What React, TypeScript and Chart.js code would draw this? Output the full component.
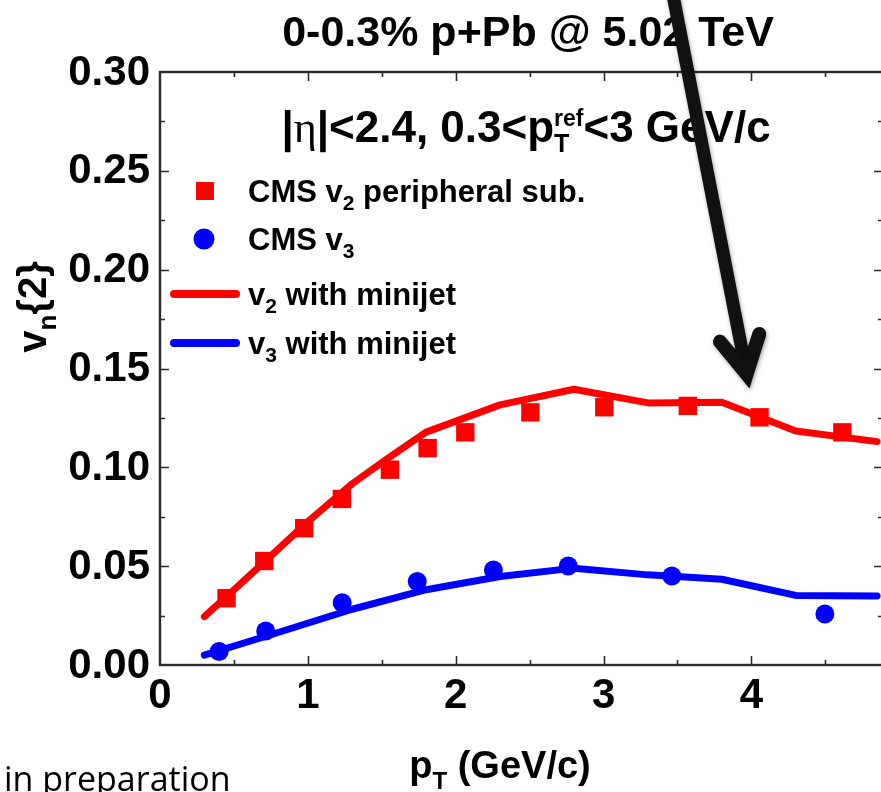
import React, { useEffect, useRef } from "react";
import { Chart, registerables } from "chart.js";

Chart.register(...registerables);

// CMS measurement, 0-0.3% p+Pb at 5.02 TeV
const cmsV2Pt = [0.45, 0.705, 0.975, 1.23, 1.555, 1.81, 2.065, 2.505, 3.005, 3.57, 4.055, 4.615];
const cmsV2 = [0.0338, 0.0526, 0.0692, 0.084, 0.0988, 0.1097, 0.1177, 0.1278, 0.1304, 0.1311, 0.1253, 0.1177];
const cmsV3Pt = [0.4, 0.715, 1.232, 1.74, 2.255, 2.761, 3.462, 4.497];
const cmsV3 = [0.0068, 0.0172, 0.0315, 0.0422, 0.0481, 0.0501, 0.045, 0.0258];

// hydro model curves with minijet contribution
const modelV2Pt = [0.3, 0.5, 0.75, 1.0, 1.3, 1.55, 1.8, 2.3, 2.8, 3.3, 3.8, 4.3, 4.85];
const modelV2 = [0.0245, 0.038, 0.0552, 0.0725, 0.0917, 0.105, 0.1178, 0.1316, 0.1395, 0.1326, 0.1329, 0.1184, 0.113];
const modelV3Pt = [0.3, 0.75, 1.3, 1.8, 2.3, 2.8, 3.3, 3.8, 4.3, 4.85];
const modelV3 = [0.005, 0.0153, 0.0282, 0.0381, 0.0448, 0.049, 0.0456, 0.0434, 0.0352, 0.0349];

// axis labels
const xTickLabels = [0, 1, 2, 3, 4];
const yTickLabels = [0.0, 0.05, 0.1, 0.15, 0.2, 0.25, 0.3];

// annotation arrow (data units), tail starts above the frame
const arrowFrom = { x: 3.45, y: 0.3465 };
const arrowTo = { x: 3.968, y: 0.1472 };

const RED = "#ff0000";
const BLUE = "#0000ff";
const INK = "#000000";
const FRAME = "#2a2a2a";
const SANS = "'Liberation Sans', Arial, Helvetica, sans-serif";
const bold = (px: number) => `bold ${px}px ${SANS}`;

type Part = { text: string; font: string; dy?: number; advance?: boolean };

function partsWidth(ctx: CanvasRenderingContext2D, parts: Part[]) {
  let w = 0;
  let pending = 0;
  for (const p of parts) {
    ctx.font = p.font;
    const pw = ctx.measureText(p.text).width;
    if (p.advance === false) {
      pending = Math.max(pending, pw);
    } else {
      w += Math.max(pending, pw);
      pending = 0;
    }
  }
  return w + pending;
}

function drawParts(ctx: CanvasRenderingContext2D, parts: Part[], x: number, y: number, align: "left" | "center") {
  ctx.textAlign = "left";
  ctx.textBaseline = "alphabetic";
  let cx = align === "center" ? x - partsWidth(ctx, parts) / 2 : x;
  let pending = 0;
  for (const p of parts) {
    ctx.font = p.font;
    const pw = ctx.measureText(p.text).width;
    ctx.fillText(p.text, cx, y + (p.dy || 0));
    if (p.advance === false) {
      pending = Math.max(pending, pw);
    } else {
      cx += Math.max(pending, pw);
      pending = 0;
    }
  }
}

const isMultiple = (v: number, step: number) => Math.abs(v / step - Math.round(v / step)) < 1e-6;

const framePlugin = {
  id: "frameAndText",
  beforeDatasetsDraw(chart: any) {
    const { ctx, chartArea: a, scales } = chart;
    const xs = scales.x;
    const ys = scales.y;
    ctx.save();
    ctx.strokeStyle = FRAME;
    ctx.lineWidth = 1.6;
    ctx.beginPath();
    for (const t of xs.ticks) {
      if (t.value <= xs.min + 1e-9 || t.value >= xs.max - 1e-9) continue;
      const px = Math.round(xs.getPixelForValue(t.value)) + 0.5;
      const len = isMultiple(t.value, 1) ? 9 : 5;
      ctx.moveTo(px, a.bottom);
      ctx.lineTo(px, a.bottom - len);
      ctx.moveTo(px, a.top);
      ctx.lineTo(px, a.top + len);
    }
    for (const t of ys.ticks) {
      if (t.value <= ys.min + 1e-9 || t.value >= ys.max - 1e-9) continue;
      const py = Math.round(ys.getPixelForValue(t.value)) + 0.5;
      const len = isMultiple(t.value, 0.05) ? 9 : 5;
      ctx.moveTo(a.left, py);
      ctx.lineTo(a.left + len, py);
      ctx.moveTo(a.right, py);
      ctx.lineTo(a.right - len, py);
    }
    ctx.stroke();
    ctx.lineWidth = 2.4;
    ctx.strokeRect(a.left, a.top, a.right - a.left, a.bottom - a.top);

    // tick labels
    ctx.fillStyle = INK;
    ctx.font = bold(42);
    ctx.textAlign = "center";
    ctx.textBaseline = "top";
    for (const v of xTickLabels) {
      ctx.fillText(String(v), xs.getPixelForValue(v), a.bottom + 10);
    }
    ctx.textAlign = "right";
    ctx.textBaseline = "middle";
    for (const v of yTickLabels) {
      ctx.fillText(v.toFixed(2), a.left - 10, ys.getPixelForValue(v) + 1);
    }
    ctx.restore();
  },
  afterDatasetsDraw(chart: any) {
    const { ctx, chartArea: a, scales } = chart;
    const xs = scales.x;
    const ys = scales.y;
    const ds = chart.data.datasets;
    ctx.save();
    ctx.fillStyle = INK;

    // title and cut line
    drawParts(ctx, [{ text: "0-0.3% p+Pb @ 5.02 TeV", font: bold(43) }], 528, 46, "center");
    drawParts(
      ctx,
      [
        { text: "|", font: bold(44) },
        { text: "\u03b7", font: `44px 'Liberation Serif', 'DejaVu Serif', serif` },
        { text: "|<2.4, 0.3<p", font: bold(44) },
        { text: "T", font: bold(25), dy: 10, advance: false },
        { text: "ref", font: bold(23), dy: -16 },
        { text: "<3 GeV/c", font: bold(44) },
      ],
      526,
      142,
      "center"
    );

    // legend
    const lx = a.left + 88;
    const rows = [191, 239, 294, 343];
    const legendFont = bold(31);
    const subFont = bold(21);
    ctx.fillStyle = ds[0].backgroundColor;
    ctx.fillRect(a.left + 36, rows[0] - 9, 18, 18);
    ctx.fillStyle = ds[1].backgroundColor;
    ctx.beginPath();
    ctx.arc(a.left + 44, rows[1], 10.5, 0, Math.PI * 2);
    ctx.fill();
    ctx.lineCap = "round";
    ctx.lineWidth = 8;
    ctx.strokeStyle = ds[2].borderColor;
    ctx.beginPath();
    ctx.moveTo(a.left + 14, rows[2]);
    ctx.lineTo(a.left + 76, rows[2]);
    ctx.stroke();
    ctx.strokeStyle = ds[3].borderColor;
    ctx.beginPath();
    ctx.moveTo(a.left + 14, rows[3]);
    ctx.lineTo(a.left + 76, rows[3]);
    ctx.stroke();
    ctx.fillStyle = INK;
    const base = 11;
    drawParts(ctx, [
      { text: "CMS v", font: legendFont },
      { text: "2", font: subFont, dy: 8 },
      { text: " peripheral sub.", font: legendFont },
    ], lx, rows[0] + base, "left");
    drawParts(ctx, [
      { text: "CMS v", font: legendFont },
      { text: "3", font: subFont, dy: 8 },
    ], lx, rows[1] + base, "left");
    drawParts(ctx, [
      { text: "v", font: legendFont },
      { text: "2", font: subFont, dy: 8 },
      { text: " with minijet", font: legendFont },
    ], lx, rows[2] + base, "left");
    drawParts(ctx, [
      { text: "v", font: legendFont },
      { text: "3", font: subFont, dy: 8 },
      { text: " with minijet", font: legendFont },
    ], lx, rows[3] + base, "left");

    // axis titles
    drawParts(ctx, [
      { text: "p", font: bold(38) },
      { text: "T", font: bold(24), dy: 11 },
      { text: " (GeV/c)", font: bold(38) },
    ], 500, 778, "center");
    ctx.save();
    ctx.translate(46, 307);
    ctx.rotate(-Math.PI / 2);
    drawParts(ctx, [
      { text: "v", font: bold(40) },
      { text: "n", font: bold(26), dy: 10 },
      { text: "{2}", font: bold(40) },
    ], 0, 0, "center");
    ctx.restore();

    // footnote
    ctx.font = `34px 'Open Sans', 'Noto Sans', sans-serif`;
    ctx.textAlign = "left";
    ctx.textBaseline = "alphabetic";
    ctx.fillText("in preparation", 4, 791);

    // annotation arrow
    const x0 = xs.getPixelForValue(arrowFrom.x);
    const y0 = ys.getPixelForValue(arrowFrom.y);
    const x1 = xs.getPixelForValue(arrowTo.x);
    const y1 = ys.getPixelForValue(arrowTo.y);
    const back = Math.atan2(y0 - y1, x0 - x1);
    const arm = 42;
    const spread = (28.5 * Math.PI) / 180;
    ctx.shadowColor = "rgba(0,0,0,0.35)";
    ctx.shadowBlur = 4;
    ctx.shadowOffsetX = 1;
    ctx.shadowOffsetY = 2;
    ctx.strokeStyle = "#111111";
    ctx.lineWidth = 13;
    ctx.lineCap = "butt";
    ctx.beginPath();
    ctx.moveTo(x0, y0);
    ctx.lineTo(x1 + Math.cos(back) * 4, y1 + Math.sin(back) * 4);
    ctx.stroke();
    ctx.lineWidth = 14;
    ctx.lineCap = "round";
    ctx.lineJoin = "miter";
    ctx.beginPath();
    ctx.moveTo(x1 + Math.cos(back - spread) * arm, y1 + Math.sin(back - spread) * arm);
    ctx.lineTo(x1, y1);
    ctx.lineTo(x1 + Math.cos(back + spread) * arm, y1 + Math.sin(back + spread) * arm);
    ctx.stroke();
    ctx.restore();
  },
};

export default function App() {
  const ref = useRef<HTMLCanvasElement | null>(null);

  useEffect(() => {
    if (!ref.current) return;
    const pts = (xs: number[], ys: number[]) => xs.map((x, i) => ({ x, y: ys[i] }));
    const chart = new Chart(ref.current, {
      type: "scatter",
      data: {
        datasets: [
          {
            label: "CMS v2 peripheral sub.",
            data: pts(cmsV2Pt, cmsV2),
            pointStyle: "rect",
            pointRadius: 13,
            backgroundColor: RED,
            borderWidth: 0,
            showLine: false,
          },
          {
            label: "CMS v3",
            data: pts(cmsV3Pt, cmsV3),
            pointStyle: "circle",
            pointRadius: 9.5,
            backgroundColor: BLUE,
            borderWidth: 0,
            showLine: false,
          },
          {
            label: "v2 with minijet",
            data: pts(modelV2Pt, modelV2),
            showLine: true,
            borderColor: RED,
            backgroundColor: RED,
            borderWidth: 7,
            pointRadius: 0,
            tension: 0,
            borderJoinStyle: "round",
            borderCapStyle: "round",
          },
          {
            label: "v3 with minijet",
            data: pts(modelV3Pt, modelV3),
            showLine: true,
            borderColor: BLUE,
            backgroundColor: BLUE,
            borderWidth: 7,
            pointRadius: 0,
            tension: 0,
            borderJoinStyle: "round",
            borderCapStyle: "round",
          },
        ] as any,
      },
      options: {
        responsive: false,
        animation: false,
        devicePixelRatio: 1,
        events: [],
        layout: { autoPadding: false, padding: { top: 72, left: 0, right: 0, bottom: 0 } },
        plugins: { legend: { display: false }, tooltip: { enabled: false } },
        scales: {
          x: {
            type: "linear",
            min: 0,
            max: 4.89,
            grid: { display: false },
            border: { display: false },
            ticks: { display: false, stepSize: 0.5, includeBounds: false },
            afterFit: (s: any) => {
              s.height = 127;
            },
          },
          y: {
            type: "linear",
            min: 0,
            max: 0.3,
            grid: { display: false },
            border: { display: false },
            ticks: { display: false, stepSize: 0.025, includeBounds: false },
            afterFit: (s: any) => {
              s.width = 160;
            },
          },
        },
      } as any,
      plugins: [framePlugin],
    });
    return () => chart.destroy();
  }, []);

  return (
    <div
      style={{
        position: "fixed",
        left: 0,
        top: 0,
        width: 881,
        height: 792,
        overflow: "hidden",
        background: "#ffffff",
      }}
    >
      <canvas ref={ref} width={883} height={792} style={{ display: "block" }} />
    </div>
  );
}
